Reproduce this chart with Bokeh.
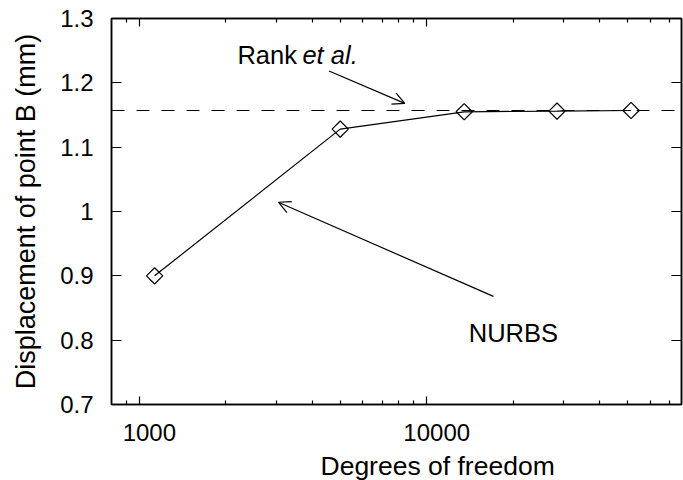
import numpy as np
from bokeh.plotting import figure
from bokeh.models import (FixedTicker, LogAxis, LinearAxis, Span, Arrow, OpenHead,
                          Label, Range1d, Title)
from bokeh.embed import file_html
from bokeh.resources import INLINE

# ---- data ----
dof = [1130, 5000, 13500, 28400, 51400]
displacement = [0.900, 1.128, 1.155, 1.156, 1.157]
rank_reference = 1.157

x_major_ticks = [1000, 10000]
x_minor_ticks = [900, 2000, 3000, 4000, 5000, 6000, 7000, 8000, 9000,
                 20000, 30000, 40000, 50000, 60000, 70000]
x_tick_labels = ["1000", "10000"]
y_ticks = [0.7, 0.8, 0.9, 1.0, 1.1, 1.2, 1.3]
y_tick_labels = ["0.7", "0.8", "0.9", "1", "1.1", "1.2", "1.3"]

# annotation anchors (data units)
rank_arrow_start = (4570, 1.2185)
rank_arrow_end = (8390, 1.168)
nurbs_arrow_start = (17060, 0.868)
nurbs_arrow_end = (3046, 1.0144)
rank_text_pos = (2194, 1.244)
etal_text_pos = (3694, 1.244)
nurbs_text_pos = (14000, 0.811)

FONT = "Liberation Sans"
NBSP = "\u00a0"

p = figure(width=683, height=480, x_axis_type="log",
           x_range=Range1d(800, 77000), y_range=Range1d(0.7, 1.3),
           output_backend="svg", toolbar_location=None,
           min_border_left=111, min_border_right=2,
           min_border_top=18, min_border_bottom=74)
p.grid.visible = False
p.outline_line_color = "black"
p.outline_line_width = 1.5
p.background_fill_color = "white"
p.border_fill_color = "white"

def style_axis(ax, tick_in, minor_in, show_labels):
    ax.axis_line_color = "black"
    ax.axis_line_width = 1.5
    ax.major_tick_in = tick_in
    ax.major_tick_out = 0
    ax.minor_tick_in = minor_in
    ax.minor_tick_out = 0
    ax.major_tick_line_color = "black"
    ax.minor_tick_line_color = "black" if minor_in > 0 else None
    ax.major_tick_line_width = 1.2
    ax.minor_tick_line_width = 1.2
    ax.major_label_text_font = FONT
    if show_labels:
        ax.major_label_text_font_size = "24px"
        ax.major_label_text_color = "black"
    else:
        ax.major_label_text_font_size = "1px"
        ax.major_label_text_color = None
        ax.major_label_standoff = 0

xticker = FixedTicker(ticks=x_major_ticks, minor_ticks=x_minor_ticks)
yticker = FixedTicker(ticks=y_ticks, minor_ticks=[])

xa = p.xaxis[0]
xa.ticker = xticker
# labels sit slightly right of their ticks in the original
xa.major_label_overrides = {t: NBSP * 3 + s for t, s in zip(x_major_ticks, x_tick_labels)}
style_axis(xa, 8, 4, True)
xa.major_label_standoff = 14

ya = p.yaxis[0]
ya.ticker = yticker
ya.major_label_overrides = dict(zip(y_ticks, y_tick_labels))
style_axis(ya, 10, 0, True)
ya.major_label_standoff = 18
ya.axis_label = "Displacement of point B (mm)"
ya.axis_label_text_font = FONT
ya.axis_label_text_font_size = "27px"
ya.axis_label_text_font_style = "normal"
ya.axis_label_text_color = "black"
ya.axis_label_standoff = 16

top = LogAxis(ticker=xticker)
style_axis(top, 8, 4, False)
p.add_layout(top, "above")
right = LinearAxis(ticker=yticker)
style_axis(right, 10, 0, False)
p.add_layout(right, "right")

# x axis title (offset to the right as in the original)
p.add_layout(Title(text="Degrees of freedom", align="left", offset=209,
                   standoff=0, text_font=FONT, text_font_size="26.5px",
                   text_font_style="normal", text_color="black"), "below")

# reference (Rank et al.) dashed line
p.add_layout(Span(location=rank_reference, dimension="width", line_color="black",
                  line_dash="13 12", line_width=1.2))

# NURBS series
p.line(dof, displacement, line_color="black", line_width=1.2)
p.scatter(dof, displacement, marker="square", angle=np.pi / 4, size=11.5,
          fill_color=None, line_color="black", line_width=1.2)

# arrows
for (xs, ys), (xe, ye) in [(rank_arrow_start, rank_arrow_end),
                           (nurbs_arrow_start, nurbs_arrow_end)]:
    p.add_layout(Arrow(end=OpenHead(size=12, line_width=1.2, line_color="black"),
                       x_start=xs, y_start=ys, x_end=xe, y_end=ye,
                       line_width=1.2, line_color="black"))

# texts
p.add_layout(Label(x=rank_text_pos[0], y=rank_text_pos[1], text="Rank",
                   text_font=FONT, text_font_size="25.5px", text_color="black",
                   text_baseline="alphabetic", text_align="left"))
p.add_layout(Label(x=etal_text_pos[0], y=etal_text_pos[1], text="et al.",
                   text_font=FONT, text_font_size="25.5px", text_color="black",
                   text_font_style="italic",
                   text_baseline="alphabetic", text_align="left"))
p.add_layout(Label(x=nurbs_text_pos[0], y=nurbs_text_pos[1], text="NURBS",
                   text_font=FONT, text_font_size="25.5px", text_color="black",
                   text_baseline="alphabetic", text_align="left"))

open("out.html", "w").write(file_html(p, INLINE))
